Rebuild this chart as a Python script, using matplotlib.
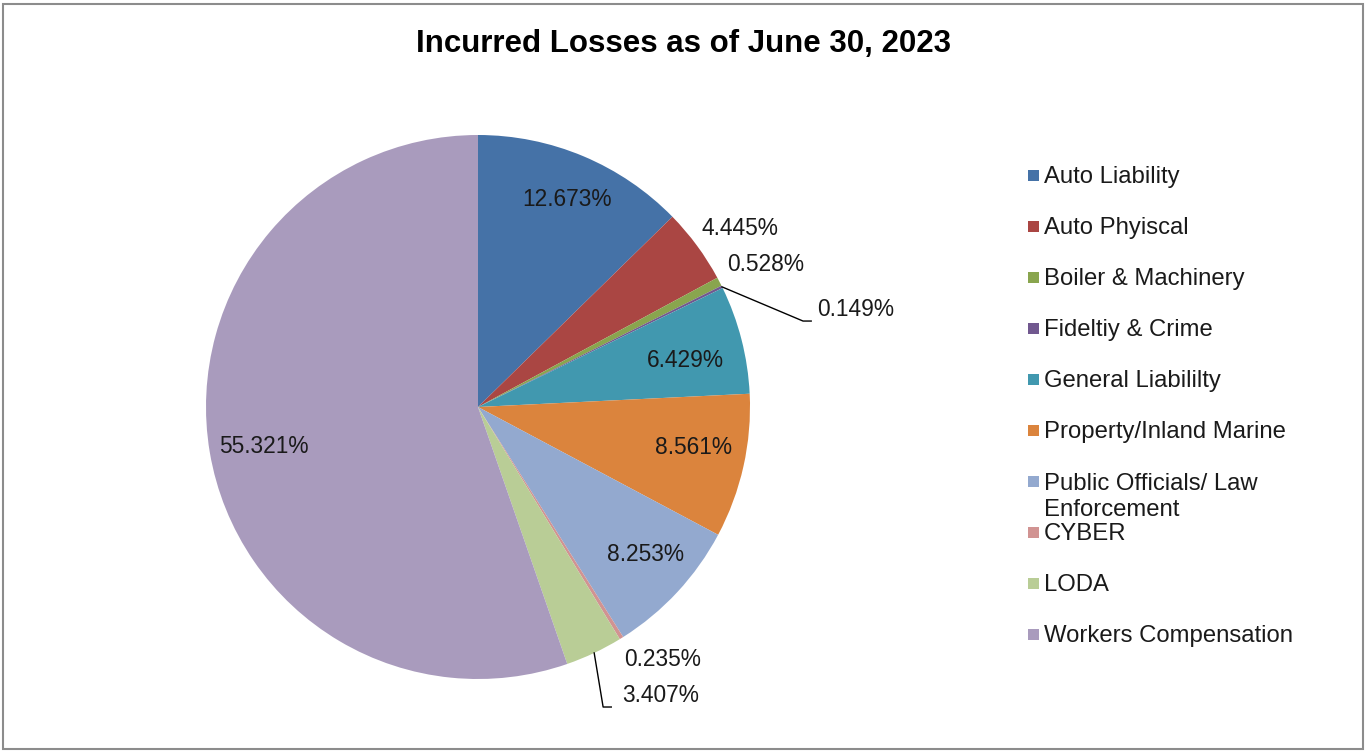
import numpy as np
import matplotlib.pyplot as plt
from matplotlib.patches import Rectangle

plt.rcParams['font.family'] = ['Liberation Sans', 'DejaVu Sans']

categories = ['Auto Liability', 'Auto Phyiscal', 'Boiler & Machinery', 'Fideltiy & Crime',
              'General Liabililty', 'Property/Inland Marine',
              'Public Officials/ Law\nEnforcement', 'CYBER', 'LODA', 'Workers Compensation']
shares = [12.673, 4.445, 0.528, 0.149, 6.429, 8.561, 8.253, 0.235, 3.407, 55.321]
colors = ['#4572A7', '#AA4643', '#89A54E', '#71588F', '#4198AF',
          '#DB843D', '#93A9CF', '#D19392', '#B9CD96', '#A99BBD']

# label placement: radius (in pie radii) and angle nudge in degrees
label_r = [0.83, 1.165, 1.18, None, 0.78, 0.805, 0.82, 1.15, None, 0.80]
label_dt = [-0.5, -2.0, -1.0, 0, -1.6, 2.0, 1.5, 4.4, 0, 1.0]
# leader-line labels: elbow point and text anchor (data units)
leaders = {3: ((1.195, 0.316), (1.245, 0.357)),
           8: ((0.460, -1.103), (0.53, -1.059))}

W, H = 1367, 753
fig = plt.figure(figsize=(W / 100, H / 100), dpi=100)
cx, cy, R = 478, 407, 272
ax = fig.add_axes([(cx - R) / W, (H - cy - R) / H, 2 * R / W, 2 * R / H])

wedges, _ = ax.pie(shares, colors=colors, startangle=90, counterclock=False, radius=1,
                   wedgeprops=dict(linewidth=0))
ax.set_xlim(-1, 1)
ax.set_ylim(-1, 1)
ax.axis('off')

for i, (w, v) in enumerate(zip(wedges, shares)):
    mid = np.deg2rad((w.theta1 + w.theta2) / 2)
    txt = f'{v:.3f}%'
    if i in leaders:
        (ex, ey), (tx, ty) = leaders[i]
        px, py = np.cos(mid), np.sin(mid)
        ax.plot([px, ex, ex + 0.03], [py, ey, ey], color='black', lw=1, clip_on=False)
        ax.text(tx, ty, txt, ha='left', va='center', fontsize=16.4, color='#1a1a1a')
    else:
        a = mid + np.deg2rad(label_dt[i])
        r = label_r[i]
        ax.text(r * np.cos(a), r * np.sin(a), txt, ha='center', va='center',
                fontsize=16.4, color='#1a1a1a')

fig.text(0.5, 1 - 44 / H, 'Incurred Losses as of June 30, 2023', ha='center', va='center',
         fontsize=22.5, fontweight='bold')

# legend on the right
leg_y0, leg_step = 175, 51
for i, (name, c) in enumerate(zip(categories, colors)):
    y = leg_y0 + i * leg_step
    s = 11
    fig.add_artist(Rectangle(((1033 - s / 2) / W, (H - y - s / 2) / H), s / W, s / H,
                             transform=fig.transFigure, facecolor=c, edgecolor='none'))
    nlines = name.count('\n') + 1
    ty = y + 2 + (nlines - 1) * 14
    fig.text(1044 / W, (H - ty) / H, name, ha='left', va='center', fontsize=17.2,
             color='#1a1a1a', linespacing=1.2)

fig.add_artist(Rectangle((3 / W, 4 / H), 1360 / W, 745 / H, transform=fig.transFigure,
                         fill=False, edgecolor='#8c8c8c', lw=1.5))

fig.savefig('out.png', dpi=100)
